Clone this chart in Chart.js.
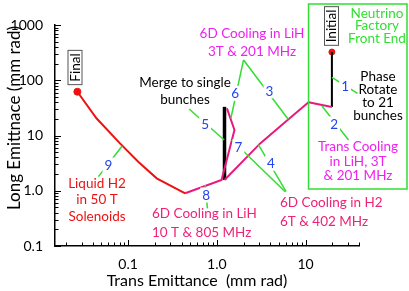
<!DOCTYPE html>
<html>
<head>
<meta charset="utf-8">
<script src="https://cdn.jsdelivr.net/npm/chart.js@4.4.1/dist/chart.umd.min.js"></script>
<style>
  html, body { margin: 0; padding: 0; background: #fff; }
  #wrap { width: 409px; height: 291px; }
</style>
</head>
<body>
<div id="wrap"><canvas id="chart" width="409" height="291"></canvas></div>
<script>
// --- data (trans emittance, long emittance in mm rad) ---
// 1: phase rotate to 21 bunches
const phaseX = [19.8, 19.8];
const phaseY = [324, 32.8];
// 2: transverse cooling
const transCoolX = [19.8, 10.8];
const transCoolY = [32.8, 39.9];
// 3 + 4: 6D cooling in LiH then H2
const cool34X = [10.8, 6.37, 3.08, 1.22];
const cool34Y = [39.9, 19.5, 7.2, 1.57];
// 5: merge to single bunches
const mergeX = [1.22, 1.22];
const mergeY = [1.57, 33];
// 6, 7, 8: 6D cooling stages after the merge
const cool678X = [1.3, 1.58, 1.13, 0.44];
const cool678Y = [31, 12.6, 1.57, 0.9];
// 9: liquid H2 in 50 T solenoids
const lh2X = [0.44, 0.21, 0.13, 0.081, 0.044, 0.0268];
const lh2Y = [0.9, 1.68, 3.36, 7.2, 20.5, 62];

const initialPt = [19.8, 324];
const finalPt = [0.0268, 62];

const xTickVals = [0.1, 1, 10];
const xTickLabels = ["0.1", "1.0", "10"];
const yTickVals = [0.1, 1, 10, 100, 1000];
const yTickLabels = ["0.1", "1.0", "10", "100", "1000"];

// numbered stage markers: leader line start/end and number position (data units)
const stageNums = ["1", "2", "3", "4", "5", "6", "7", "8", "9"];
const stageFrom = [[19.8, 113], [15.3, 34.2], [2.0, 233], [2.94, 6.87], [0.487, 30.2], [2.0, 233], [1.476, 8.29], [0.738, 1.27], [0.0856, 6.46]];
const stageTo   = [[38.5, 58], [30.5, 8.29], [6.37, 19.7], [6.04, 0.961], [1.21, 8.29], [1.44, 20.5], [5.89, 0.961], [0.783, 0.481], [0.0463, 1.80]];
const stageAt   = [[27.9, 78.7], [21.0, 16.2], [3.92, 64.7], [4.06, 3.14], [0.738, 16.2], [1.61, 58], [1.75, 6.27], [0.758, 0.838], [0.060, 2.92]];

const FONT = "Lato, 'Open Sans', sans-serif";
const MAGENTA = "#ee22ee";
const PINK = "#ee2277";
const LINEPINK = "#e8197d";
const RED = "#ee1111";
const GREEN = "#33dd33";
const BLUE = "#2244ee";

function pts(xs, ys) {
  return xs.map((x, i) => ({ x: x, y: ys[i] }));
}

function seg(xs, ys, color, width) {
  return {
    data: pts(xs, ys),
    showLine: true,
    borderColor: color,
    borderWidth: width,
    pointRadius: 0,
    tension: 0
  };
}

// text blocks (canvas layout)
const notes = [
  { lines: ["Neutrino", "Factory", "Front End"], x: 377, y: 13.5, lh: 12.5, color: GREEN, align: "center" },
  { lines: ["Phase", "Rotate", "to 21", "bunches"], x: 378, y: 77, lh: 12.8, color: "#000", align: "center" },
  { lines: ["Trans Cooling", "in LiH, 3T", "& 201 MHz"], x: 358, y: 147, lh: 14.2, color: MAGENTA, align: "center" },
  { lines: ["6D Cooling in H2", "6T & 402 MHz"], x: 280, y: 203, lh: 19, color: PINK, align: "left" },
  { lines: ["6D Cooling in LiH", "10 T & 805 MHz"], x: 152, y: 213.5, lh: 19.4, color: PINK, align: "left" },
  { lines: ["6D Cooling in LiH", "3T & 201 MHz"], x: 252, y: 33.5, lh: 18.3, color: MAGENTA, align: "center" },
  { lines: ["Merge to single", "bunches"], x: 185, y: 83, lh: 16.3, color: "#000", align: "center" },
  { lines: ["Liquid H2", "in 50 T", "Solenoids"], x: 97, y: 183.5, lh: 16.5, color: RED, align: "center" }
];

const overlay = {
  id: "overlay",
  afterDatasetsDraw(chart) {
    const ctx = chart.ctx;
    const xs = chart.scales.x, ys = chart.scales.y;
    const a = chart.chartArea;
    ctx.save();

    // inside ticks
    ctx.strokeStyle = "#000";
    ctx.lineWidth = 1;
    for (let d = -1; d <= 3; d++) {
      for (let m = 1; m <= 9; m++) {
        const v = m * Math.pow(10, d);
        if (v > 1000.001) continue;
        const p = Math.round(ys.getPixelForValue(v)) + 0.5;
        ctx.beginPath();
        ctx.moveTo(a.left, p);
        ctx.lineTo(a.left + (m === 1 ? 6 : 3.5), p);
        ctx.stroke();
      }
    }
    for (let d = -2; d <= 1; d++) {
      for (let m = 1; m <= 9; m++) {
        const v = m * Math.pow(10, d);
        if (v < xs.min || v > xs.max) continue;
        const p = Math.round(xs.getPixelForValue(v)) + 0.5;
        ctx.beginPath();
        ctx.moveTo(p, a.bottom);
        ctx.lineTo(p, a.bottom - (m === 1 ? 6 : 3.5));
        ctx.stroke();
      }
    }

    // axis titles
    ctx.fillStyle = "#000";
    ctx.textAlign = "center";
    ctx.textBaseline = "middle";
    ctx.font = "16px " + FONT;
    ctx.fillText("Trans Emittance  (mm rad)", 197, 281);
    ctx.save();
    ctx.translate(15, 118);
    ctx.rotate(-Math.PI / 2);
    ctx.font = "17px " + FONT;
    ctx.fillText("Long Emittnace (mm rad)", 0, 0);
    ctx.restore();

    // green front end box
    ctx.strokeStyle = GREEN;
    ctx.lineWidth = 1.5;
    const bx = xs.getPixelForValue(transCoolX[1]);
    ctx.strokeRect(bx, 4, 407 - bx, 185);

    // leader lines with stage numbers
    ctx.font = "13.5px " + FONT;
    stageNums.forEach((n, i) => {
      const x1 = xs.getPixelForValue(stageFrom[i][0]), y1 = ys.getPixelForValue(stageFrom[i][1]);
      const x2 = xs.getPixelForValue(stageTo[i][0]), y2 = ys.getPixelForValue(stageTo[i][1]);
      const lx = xs.getPixelForValue(stageAt[i][0]), ly = ys.getPixelForValue(stageAt[i][1]);
      ctx.strokeStyle = GREEN;
      ctx.lineWidth = 1.5;
      ctx.beginPath();
      ctx.moveTo(x1, y1);
      ctx.lineTo(x2, y2);
      ctx.stroke();
      const w = ctx.measureText(n).width;
      ctx.fillStyle = "#fff";
      ctx.fillRect(lx - w / 2 - 2, ly - 7.5, w + 4, 15);
      ctx.fillStyle = BLUE;
      ctx.fillText(n, lx, ly + 0.5);
    });

    // text blocks
    ctx.font = "13.5px " + FONT;
    notes.forEach(t => {
      ctx.fillStyle = t.color;
      ctx.textAlign = t.align;
      t.lines.forEach((s, k) => ctx.fillText(s, t.x, t.y + k * t.lh));
    });

    // boxed, rotated labels
    ctx.textAlign = "center";
    [["Final", 67.5, 75], ["Initial", 26, 331.5]].forEach(b => {
      const cx = b[2], cy = b[1];
      ctx.save();
      ctx.translate(cx, cy);
      ctx.rotate(-Math.PI / 2);
      ctx.font = "13.5px " + FONT;
      const w = ctx.measureText(b[0]).width;
      ctx.fillStyle = "#fff";
      ctx.fillRect(-w / 2 - 3, -7, w + 6, 14);
      ctx.strokeStyle = "#555";
      ctx.lineWidth = 1;
      ctx.strokeRect(-w / 2 - 3, -7, w + 6, 14);
      ctx.fillStyle = "#000";
      ctx.fillText(b[0], 0, 0.5);
      ctx.restore();
    });

    ctx.restore();
  }
};

new Chart(document.getElementById("chart"), {
  type: "scatter",
  data: {
    datasets: [
      seg(lh2X, lh2Y, RED, 2),
      seg(cool678X, cool678Y, LINEPINK, 2),
      seg(cool34X, cool34Y, LINEPINK, 2),
      seg(transCoolX, transCoolY, LINEPINK, 2),
      seg(phaseX, phaseY, "#000", 2),
      seg(mergeX, mergeY, "#000", 3.5),
      {
        data: [{ x: initialPt[0], y: initialPt[1] }, { x: finalPt[0], y: finalPt[1] }],
        pointRadius: [3, 3.5],
        pointBackgroundColor: RED,
        pointBorderColor: RED,
        showLine: false
      }
    ]
  },
  options: {
    responsive: false,
    animation: false,
    layout: { padding: { left: 0, right: 50, top: 25, bottom: 0 } },
    plugins: { legend: { display: false }, tooltip: { enabled: false } },
    scales: {
      x: {
        type: "logarithmic",
        min: 0.015,
        max: 40,
        afterBuildTicks: s => { s.ticks = xTickVals.map(v => ({ value: v })); },
        afterFit: s => { s.height = 45; },
        ticks: {
          callback: v => xTickLabels[xTickVals.indexOf(v)],
          font: { family: FONT, size: 14 },
          color: "#000",
          padding: 2,
          maxRotation: 0,
          autoSkip: false
        },
        grid: { display: false },
        border: { display: true, color: "#000", width: 1.5 }
      },
      y: {
        type: "logarithmic",
        min: 0.1,
        max: 1000,
        afterBuildTicks: s => { s.ticks = yTickVals.map(v => ({ value: v })); },
        afterFit: s => { s.width = 55; },
        ticks: {
          callback: v => yTickLabels[yTickVals.indexOf(v)],
          font: { family: FONT, size: 14 },
          color: "#000",
          padding: 4,
          autoSkip: false
        },
        grid: { display: false },
        border: { display: true, color: "#000", width: 1.5 }
      }
    }
  },
  plugins: [overlay]
});
</script>
</body>
</html>
